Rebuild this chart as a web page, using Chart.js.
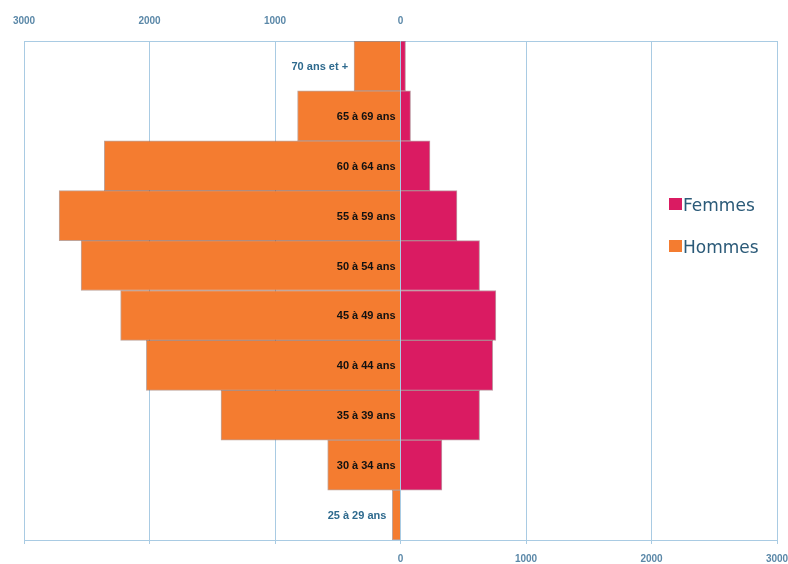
<!DOCTYPE html>
<html>
<head>
<meta charset="utf-8">
<script src="https://cdn.jsdelivr.net/npm/chart.js@4"></script>
<style>
  html, body { margin: 0; padding: 0; background: #fff; }
  #wrap { width: 788px; height: 564px; position: relative; }
</style>
</head>
<body>
<div id="wrap"><canvas id="myChart" width="788" height="564"></canvas></div>
<script>
// Tranches d'âge, du haut vers le bas
const ages = ['70 ans et +', '65 à 69 ans', '60 à 64 ans', '55 à 59 ans', '50 à 54 ans',
  '45 à 49 ans', '40 à 44 ans', '35 à 39 ans', '30 à 34 ans', '25 à 29 ans'];
const femmes = [40, 80, 235, 450, 630, 760, 735, 630, 330, 0];
const hommes = [370, 820, 2360, 2720, 2545, 2230, 2025, 1430, 580, 65];
const ticksVals = [-3000, -2000, -1000, 0, 1000, 2000, 3000];

const orange = '#F47C30';
const pink = '#DA1B62';
const gridBlue = '#a9cbe3';
const tickColor = '#5b88a8';
const tickFont = { size: 10, weight: 'bold', family: '"Liberation Sans", Arial, sans-serif' };

// Étiquettes des tranches placées au milieu, légende à droite
const pyramidLabels = {
  id: 'pyramidLabels',
  afterDatasetsDraw(chart) {
    const ctx = chart.ctx;
    const xs = chart.scales.x;
    const ys = chart.scales.y;
    const x0 = xs.getPixelForValue(0);
    ctx.save();
    ctx.font = 'bold 11px "Liberation Sans", Arial, sans-serif';
    ctx.textAlign = 'right';
    ctx.textBaseline = 'middle';
    ages.forEach((lab, i) => {
      const y = ys.getPixelForValue(i) + 1;
      const left = xs.getPixelForValue(-hommes[i]);
      const w = ctx.measureText(lab).width;
      if (x0 - 5 - w > left + 2) {
        ctx.fillStyle = '#111';
        ctx.fillText(lab, x0 - 5, y);
      } else {
        ctx.fillStyle = '#2e6a8e';
        ctx.fillText(lab, left - 6, y);
      }
    });

    // légende
    const items = [['Femmes', pink, 204], ['Hommes', orange, 246]];
    ctx.textAlign = 'left';
    ctx.font = '17px "DejaVu Sans", sans-serif';
    items.forEach(([t, c, y]) => {
      ctx.fillStyle = c;
      ctx.fillRect(669, y - 6, 13, 12);
      ctx.fillStyle = '#2b5a78';
      ctx.fillText(t, 683, y + 3);
    });
    ctx.restore();
  }
};

const ctx = document.getElementById('myChart').getContext('2d');
new Chart(ctx, {
  type: 'bar',
  data: {
    labels: ages,
    datasets: [
      {
        label: 'Femmes',
        data: femmes,
        backgroundColor: pink,
        borderColor: 'rgba(140,70,90,0.55)',
        borderWidth: 1,
        barPercentage: 1,
        categoryPercentage: 1
      },
      {
        label: 'Hommes',
        data: hommes.map(v => -v),
        backgroundColor: orange,
        borderColor: 'rgba(140,90,70,0.55)',
        borderWidth: 1,
        barPercentage: 1,
        categoryPercentage: 1
      }
    ]
  },
  options: {
    indexAxis: 'y',
    responsive: false,
    animation: false,
    layout: { padding: { left: 24, right: 11, top: 0, bottom: 0 } },
    plugins: {
      legend: { display: false },
      tooltip: { enabled: false }
    },
    scales: {
      x: {
        position: 'bottom',
        stacked: true,
        min: -3000,
        max: 3000,
        afterBuildTicks: s => { s.ticks = ticksVals.map(v => ({ value: v })); },
        afterFit: s => { s.height = 24; s.paddingLeft = 0; s.paddingRight = 0; },
        grid: { color: gridBlue, drawTicks: true, tickLength: 4 },
        border: { color: gridBlue },
        ticks: {
          color: tickColor,
          font: tickFont,
          padding: 9,
          maxRotation: 0,
          callback: v => v >= 0 ? String(v) : ''
        }
      },
      x2: {
        position: 'top',
        min: -3000,
        max: 3000,
        afterBuildTicks: s => { s.ticks = ticksVals.map(v => ({ value: v })); },
        afterFit: s => { s.height = 41; s.paddingLeft = 0; s.paddingRight = 0; },
        grid: { display: false },
        border: { color: gridBlue },
        ticks: {
          color: tickColor,
          font: tickFont,
          padding: 6,
          maxRotation: 0,
          callback: v => v <= 0 ? String(Math.abs(v)) : ''
        }
      },
      y: {
        stacked: true,
        display: false
      }
    }
  },
  plugins: [pyramidLabels]
});
</script>
</body>
</html>
